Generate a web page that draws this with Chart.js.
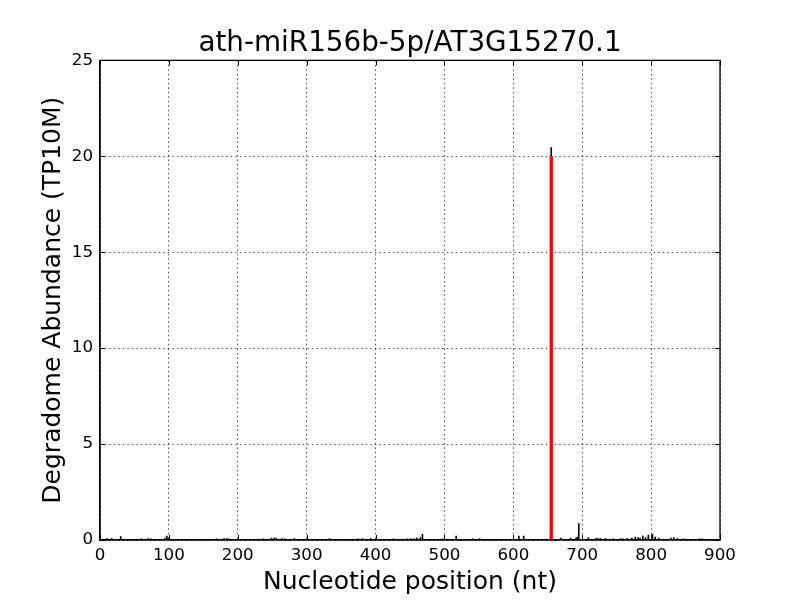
<!DOCTYPE html>
<html>
<head>
<meta charset="utf-8">
<script src="https://cdn.jsdelivr.net/npm/chart.js@4.4.1/dist/chart.umd.min.js"></script>
<style>
  body { margin: 0; background: #fff; }
  #wrap { width: 800px; height: 600px; }
</style>
</head>
<body>
<div id="wrap"><canvas id="mychart" width="800" height="600"></canvas></div>
<script>
// degradome reads per nucleotide position (TP10M)
const positions = [10, 17, 30, 60, 70, 74, 94, 97, 100,
    169, 180, 184, 187, 237, 249, 253, 256, 264, 268, 282,
    333, 375, 381, 393, 426, 446, 451, 456, 460,
    465, 468, 497, 517, 541, 551, 608, 615,
    655, 669, 683, 691, 693, 695, 709, 720, 722, 726, 734, 745, 756,
    760, 765, 772, 777, 781, 784, 788, 792, 796, 802, 806, 811, 829, 833, 838, 847, 870, 874]
const abundance = [0.08, 0.08, 0.18, 0.06, 0.08, 0.06, 0.1, 0.2, 0.1,
    0.06, 0.08, 0.08, 0.06, 0.06, 0.1, 0.1, 0.1, 0.08, 0.06, 0.08,
    0.08, 0.06, 0.08, 0.08, 0.06, 0.06, 0.08, 0.06, 0.1,
    0.12, 0.3, 0.06, 0.2, 0.06, 0.08, 0.2, 0.2,
    20.45, 0.1, 0.1, 0.1, 0.15, 0.85, 0.12, 0.08, 0.1, 0.08, 0.08, 0.06, 0.08,
    0.06, 0.08, 0.1, 0.15, 0.12, 0.1, 0.2, 0.12, 0.25, 0.3, 0.15, 0.1, 0.1, 0.12, 0.08, 0.06, 0.06, 0.06]

// miRNA target site
const sitePositions = [655]
const siteAbundance = [20]

const xTicks = [0, 100, 200, 300, 400, 500, 600, 700, 800, 900]
const yTicks = [0, 5, 10, 15, 20, 25]

const FONT = 'DejaVu Sans'

// box around the axes + inward tick marks like matplotlib
const frame = {
    id: 'frame',
    afterLayout(chart) {
        // center the title over the plot area, not the whole canvas
        if (chart.titleBlock) {
            chart.titleBlock.left = chart.chartArea.left
            chart.titleBlock.right = chart.chartArea.right
        }
    },
    afterDraw(chart) {
        const ctx = chart.ctx
        const a = chart.chartArea
        const xs = chart.scales.x, ys = chart.scales.y
        ctx.save()
        ctx.strokeStyle = '#000'
        ctx.lineWidth = 1
        xTicks.forEach(v => {
            const px = Math.round(xs.getPixelForValue(v)) + 0.5
            ctx.beginPath()
            ctx.moveTo(px, a.bottom); ctx.lineTo(px, a.bottom - 5)
            ctx.moveTo(px, a.top); ctx.lineTo(px, a.top + 5)
            ctx.stroke()
        })
        yTicks.forEach(v => {
            const py = Math.round(ys.getPixelForValue(v)) + 0.5
            ctx.beginPath()
            ctx.moveTo(a.left, py); ctx.lineTo(a.left + 5, py)
            ctx.moveTo(a.right, py); ctx.lineTo(a.right - 5, py)
            ctx.stroke()
        })
        ctx.lineWidth = 1.3
        ctx.strokeRect(a.left, a.top, a.right - a.left, a.bottom - a.top)
        ctx.restore()
    }
}

const bgWhite = {
    id: 'bgWhite',
    beforeDraw(chart) {
        const ctx = chart.ctx
        ctx.save()
        ctx.fillStyle = '#fff'
        ctx.fillRect(0, 0, chart.width, chart.height)
        ctx.restore()
    }
}

new Chart(document.getElementById('mychart'), {
    type: 'bar',
    data: {
        datasets: [{
            label: 'reads',
            data: positions.map((p, i) => ({x: p, y: abundance[i]})),
            backgroundColor: '#000',
            barThickness: 1,
            grouped: false,
            order: 2
        }, {
            label: 'site',
            data: sitePositions.map((p, i) => ({x: p, y: siteAbundance[i]})),
            backgroundColor: '#ff0000',
            barThickness: 2.6,
            grouped: false,
            order: 1
        }]
    },
    options: {
        responsive: false,
        animation: false,
        layout: { padding: { left: 0, right: 80, top: 0, bottom: 0 } },
        plugins: {
            legend: { display: false },
            tooltip: { enabled: false },
            title: {
                display: true,
                text: 'ath-miR156b-5p/AT3G15270.1',
                color: '#000',
                font: { family: FONT, size: 27.8, weight: 'normal' },
                padding: { top: 27, bottom: 0 }
            }
        },
        scales: {
            x: {
                type: 'linear',
                min: 0, max: 900,
                offset: false,
                afterBuildTicks: s => { s.ticks = xTicks.map(v => ({value: v})) },
                afterFit: s => { s.height = 60 },
                ticks: { color: '#000', font: { family: FONT, size: 16.7 }, padding: 6, maxRotation: 0 },
                grid: { color: 'rgba(0,0,0,0.85)', lineWidth: 0.8, drawTicks: false, offset: false },
                border: { display: true, color: '#000', width: 1.3, dash: [1.5, 3] },
                title: {
                    display: true,
                    text: 'Nucleotide position (nt)',
                    color: '#000',
                    font: { family: FONT, size: 25 },
                    padding: { top: 0, bottom: 2.5 }
                }
            },
            y: {
                min: 0, max: 25,
                afterBuildTicks: s => { s.ticks = yTicks.map(v => ({value: v})) },
                afterFit: s => { s.width = 100 },
                ticks: { color: '#000', font: { family: FONT, size: 16.7 }, padding: 7 },
                grid: { color: 'rgba(0,0,0,0.85)', lineWidth: 0.8, drawTicks: false },
                border: { display: true, color: '#000', width: 1.3, dash: [1.5, 3] },
                title: {
                    display: true,
                    text: 'Degradome Abundance (TP10M)',
                    color: '#000',
                    font: { family: FONT, size: 25 },
                    padding: { top: 38.5, bottom: 0 }
                }
            }
        }
    },
    plugins: [bgWhite, frame]
})
</script>
</body>
</html>
